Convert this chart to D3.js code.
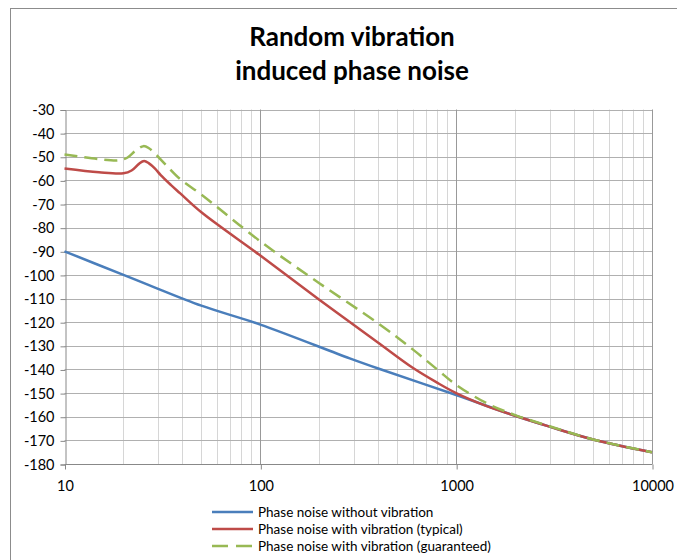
<!DOCTYPE html>
<html><head><meta charset="utf-8">
<script src="https://cdn.jsdelivr.net/npm/d3@7"></script>
<style>body{margin:0;background:#fff}svg{display:block}</style>
</head><body><svg id="c" width="677" height="560"></svg>
<script>
const titleLines = ["Random vibration", "induced phase noise"];
const yTicks = [-30,-40,-50,-60,-70,-80,-90,-100,-110,-120,-130,-140,-150,-160,-170,-180];
const xTicks = [10,100,1000,10000];
const seriesNames = ["Phase noise without vibration","Phase noise with vibration (typical)","Phase noise with vibration (guaranteed)"];
const blueF = [10,20,27,50,100,286,400,1000,2000,3000,5000,10000];
const blueV = [-90,-100,-104.3,-113,-121,-135.3,-139.6,-150.8,-159.6,-164.2,-169.6,-175];
const redF = [10,15,20,22,24,25.5,27,29,31,35,39,50,100,200,400,600,800,1000,1400,2000,3000,5000,10000];
const redV = [-55,-56.6,-57,-55.8,-53,-51.8,-52.8,-55,-57.8,-62,-65.5,-73.5,-91.8,-110.5,-128.7,-139.3,-145.6,-150,-155.2,-159.6,-164.2,-169.6,-175];
const greenF = [10,15,19,21,23,25.3,27,29.5,33,39,50,100,200,400,600,800,1000,1425,2000,3000,5000,10000];
const greenV = [-49,-51,-51.5,-50.3,-47.5,-45.5,-46.4,-49.3,-53.5,-59.5,-66,-85.8,-103.5,-120.5,-131.5,-140,-146.5,-154.2,-159.3,-164,-169.6,-175];
const colors = ["#4a7ebb","#be4b48","#98b954"];

const svg = d3.select("#c");
const font = "Lato, 'Open Sans', sans-serif";
svg.append("rect").attr("x",10.5).attr("y",8.5).attr("width",700).attr("height",600)
  .attr("fill","#fff").attr("stroke","#8c8c8c").attr("stroke-width",1);

const x = d3.scaleLog().domain([10,10000]).range([64.5,652]);
const y = d3.scaleLinear().domain([-180,-30]).range([464,109.5]);

// title
svg.append("g").selectAll("text").data(titleLines).join("text")
  .attr("x",352).attr("y",(d,i)=>46+i*34).attr("text-anchor","middle")
  .attr("font-family",font).attr("font-weight","bold").attr("font-size",26).attr("fill","#000").text(d=>d);

// grid
const minor = [];
for (let dec=10; dec<10000; dec*=10) for (let k=2;k<=9;k++) minor.push(dec*k);
svg.append("g").selectAll("line").data(minor).join("line")
  .attr("x1",d=>Math.round(x(d))+0.5).attr("x2",d=>Math.round(x(d))+0.5)
  .attr("y1",y(-30)).attr("y2",y(-180)).attr("stroke","#d6d6d6").attr("stroke-width",1);
svg.append("g").selectAll("line").data(yTicks).join("line")
  .attr("x1",x(10)).attr("x2",x(10000))
  .attr("y1",d=>Math.round(y(d))+0.5).attr("y2",d=>Math.round(y(d))+0.5)
  .attr("stroke","#b0b0b0").attr("stroke-width",1);
svg.append("g").selectAll("line").data(xTicks.slice(1)).join("line")
  .attr("x1",d=>Math.round(x(d))+0.5).attr("x2",d=>Math.round(x(d))+0.5)
  .attr("y1",y(-30)).attr("y2",y(-180)).attr("stroke","#999").attr("stroke-width",1);

// axes
const yAxis = d3.axisLeft(y).tickValues(yTicks).tickSize(5).tickPadding(6).tickFormat(d=>d);
const gy = svg.append("g").attr("transform",`translate(${Math.round(x(10))+0.5},0.5)`).call(yAxis);
const xAxis = d3.axisBottom(x).tickValues(xTicks).tickSize(5).tickPadding(11).tickFormat(d=>d);
const gx = svg.append("g").attr("transform",`translate(0.5,${Math.round(y(-180))+0.5})`).call(xAxis);
[gx,gy].forEach(g=>{
  g.select(".domain").attr("stroke","#888");
  g.selectAll(".tick line").attr("stroke","#888");
  g.selectAll("text").attr("font-family",font).attr("font-size",14.5).attr("fill","#000");
});
gx.select(".domain").attr("d",`M${x(10)},0H${x(10000)}`);

// lines
const data = [d3.zip(blueF,blueV), d3.zip(redF,redV), d3.zip(greenF,greenV)];
const line = d3.line().x(d=>x(d[0])).y(d=>y(d[1])).curve(d3.curveCatmullRom.alpha(0.5));
svg.append("g").selectAll("path").data(data).join("path")
  .attr("d",line).attr("fill","none").attr("stroke",(d,i)=>colors[i])
  .attr("stroke-width",2.5).attr("stroke-dasharray",(d,i)=>i===2?"13,7":null)
  .attr("stroke-linejoin","round");

// legend
const lg = svg.append("g").selectAll("g").data(seriesNames).join("g")
  .attr("transform",(d,i)=>`translate(212,${512+i*17})`);
lg.append("line").attr("x1",0).attr("x2",41).attr("y1",0).attr("y2",0)
  .attr("stroke",(d,i)=>colors[i]).attr("stroke-width",2.5)
  .attr("stroke-dasharray",(d,i)=>i===2?"16,8":null);
lg.append("text").attr("x",46).attr("y",4.5).attr("font-family",font).attr("font-size",13.5)
  .attr("fill","#000").text(d=>d);
</script></body></html>
